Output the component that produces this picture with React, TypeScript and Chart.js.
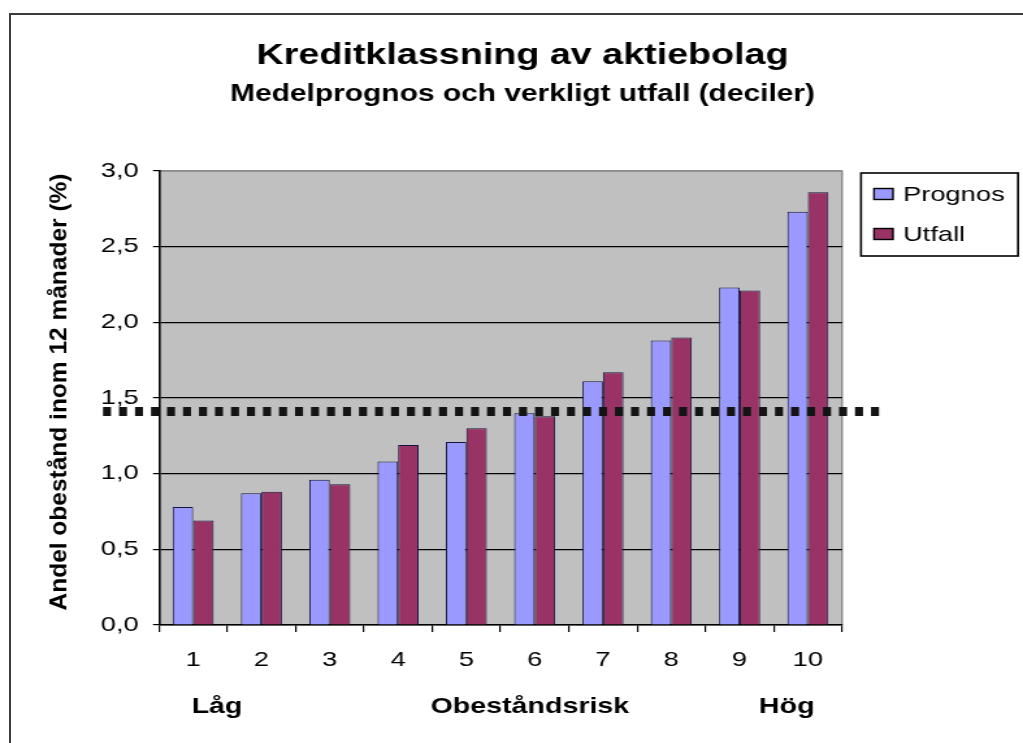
import React, { useEffect, useRef } from 'react';
import { Chart, registerables } from 'chart.js';

Chart.register(...registerables);

// ---- data ----
const categories = ['1', '2', '3', '4', '5', '6', '7', '8', '9', '10'];
const prognos = [0.78, 0.87, 0.96, 1.08, 1.21, 1.40, 1.61, 1.88, 2.23, 2.73];
const utfall = [0.69, 0.88, 0.93, 1.19, 1.30, 1.38, 1.67, 1.90, 2.21, 2.86];
const yTickLabels = ['0,0', '0,5', '1,0', '1,5', '2,0', '2,5', '3,0'];
const averageLevel = 1.41;
const riskLabels = ['Låg', 'Obeståndsrisk', 'Hög'];
const titleText = 'Kreditklassning av aktiebolag';
const subtitleText = 'Medelprognos och verkligt utfall (deciler)';
const yAxisTitle = 'Andel obestånd inom 12 månader (%)';

// ---- canvas geometry (drawn narrow, shown stretched like the reference) ----
const PAGE_W = 1023;
const PAGE_H = 743;
const CW = 787;
const S = PAGE_W / CW;
const FONT = "'Liberation Sans', Arial, sans-serif";
const LEFT_PAD = 17;

Chart.defaults.font.family = FONT;

const plotBackground = {
  id: 'plotBackground',
  beforeDraw(chart: any) {
    const { ctx, chartArea: a } = chart;
    ctx.save();
    ctx.fillStyle = '#c0c0c0';
    ctx.fillRect(a.left, a.top, a.right - a.left, a.bottom - a.top);
    ctx.strokeStyle = '#8c8c8c';
    ctx.lineWidth = 1.5;
    ctx.beginPath();
    ctx.moveTo(a.left, a.top);
    ctx.lineTo(a.right, a.top);
    ctx.lineTo(a.right, a.bottom);
    ctx.stroke();
    ctx.restore();
  },
};

const decorations = {
  id: 'decorations',
  afterDraw(chart: any) {
    const { ctx, chartArea: a } = chart;
    const w = a.right - a.left;

    // dotted average line
    const y = chart.scales.y.getPixelForValue(averageLevel);
    ctx.save();
    ctx.strokeStyle = '#141414';
    ctx.lineWidth = 9;
    ctx.lineCap = 'butt';
    ctx.setLineDash([8 / S, 8 / S]);
    ctx.beginPath();
    ctx.moveTo(a.left - 56 / S, y);
    ctx.lineTo(a.right + 40 / S, y);
    ctx.stroke();
    ctx.restore();

    // risk labels under the axis
    const fr = [0.085, 0.543, 0.919];
    ctx.save();
    ctx.fillStyle = '#000';
    ctx.font = `bold 22px ${FONT}`;
    ctx.textAlign = 'center';
    ctx.textBaseline = 'middle';
    riskLabels.forEach((t, i) => ctx.fillText(t, a.left + fr[i] * w, 707));
    ctx.restore();

    // y axis title (compensate stretch so glyphs keep their shape)
    ctx.save();
    ctx.translate(59 / S, (a.top + a.bottom) / 2 - 6);
    ctx.rotate(-Math.PI / 2);
    ctx.scale(1, 1 / S);
    ctx.fillStyle = '#000';
    ctx.font = `bold 24.5px ${FONT}`;
    ctx.textAlign = 'center';
    ctx.textBaseline = 'middle';
    ctx.fillText(yAxisTitle, 0, 0);
    ctx.restore();

    // legend
    const lx = 861 / S;
    const lw = (1018 - 861) / S;
    const ly = 173;
    const lh = 83;
    ctx.save();
    ctx.strokeStyle = '#000';
    ctx.lineWidth = 1.6;
    ctx.strokeRect(lx, ly, lw, lh);
    chart.data.datasets.forEach((ds: any, i: number) => {
      const cy = 194 + i * 40;
      ctx.fillStyle = ds.backgroundColor;
      ctx.fillRect(874 / S, cy - 5.5, 19 / S, 11);
      ctx.strokeStyle = '#000';
      ctx.lineWidth = 1.4;
      ctx.strokeRect(874 / S, cy - 5.5, 19 / S, 11);
      ctx.fillStyle = '#000';
      ctx.font = `21px ${FONT}`;
      ctx.textAlign = 'left';
      ctx.textBaseline = 'middle';
      ctx.fillText(ds.label, 903 / S, cy + 1);
    });
    ctx.restore();
  },
};

export default function App() {
  const ref = useRef<HTMLCanvasElement>(null);

  useEffect(() => {
    const canvas = ref.current;
    if (!canvas) return;
    const chart = new Chart(canvas, {
      type: 'bar',
      data: {
        labels: categories,
        datasets: [
          {
            label: 'Prognos',
            data: prognos,
            backgroundColor: '#9999ff',
            borderColor: '#14143c',
            borderWidth: 1,
            categoryPercentage: 0.6,
            barPercentage: 1.0,
          },
          {
            label: 'Utfall',
            data: utfall,
            backgroundColor: '#993366',
            borderColor: '#14143c',
            borderWidth: 1,
            categoryPercentage: 0.6,
            barPercentage: 1.0,
          },
        ],
      },
      options: {
        responsive: false,
        animation: false,
        devicePixelRatio: 1,
        layout: { padding: { left: LEFT_PAD, right: 0, top: 0, bottom: 0 } },
        plugins: {
          legend: { display: false },
          tooltip: { enabled: false },
          title: {
            display: true,
            text: titleText,
            color: '#000',
            font: { size: 29, weight: 'bold' },
            padding: { top: 38.6, bottom: 0 },
          },
          subtitle: {
            display: true,
            text: subtitleText,
            color: '#000',
            font: { size: 23, weight: 'bold' },
            padding: { top: 7.8, bottom: 62.2 },
          },
        },
        scales: {
          x: {
            offset: true,
            grid: {
              display: true,
              drawOnChartArea: false,
              drawTicks: true,
              tickLength: 7,
              tickColor: '#000',
              offset: true,
              lineWidth: 1.2,
            },
            border: { display: true, color: '#000', width: 1.6 },
            ticks: { color: '#000', font: { size: 21 }, padding: 16, maxRotation: 0, autoSkip: false },
            afterFit: (scale: any) => {
              scale.height = PAGE_H - 625;
            },
          },
          y: {
            min: 0,
            max: 3,
            ticks: {
              stepSize: 0.5,
              color: '#000',
              font: { size: 21 },
              padding: 11,
              callback: (_v: any, i: number) => yTickLabels[i],
            },
            grid: {
              color: (c: any) => (c.tick && c.tick.value === 3 ? '#8c8c8c' : '#000'),
              tickColor: '#000',
              tickLength: 6 / S,
              lineWidth: 1.2,
            },
            border: { display: true, color: '#000', width: 1.6 },
            afterFit: (scale: any) => {
              scale.width = 159 / S - LEFT_PAD;
            },
          },
          legendSpace: {
            type: 'linear',
            position: 'right',
            display: true,
            grid: { drawOnChartArea: false, drawTicks: false },
            border: { display: false },
            ticks: { display: false },
            afterFit: (scale: any) => {
              scale.width = CW - 842 / S;
            },
          },
        },
      },
      plugins: [plotBackground, decorations],
    } as any);
    return () => chart.destroy();
  }, []);

  return (
    <div
      style={{
        position: 'absolute',
        left: 0,
        top: 0,
        width: PAGE_W,
        height: PAGE_H,
        overflow: 'hidden',
        background: '#fff',
      }}
    >
      <canvas
        ref={ref}
        width={CW}
        height={PAGE_H}
        style={{ position: 'absolute', left: 0, top: 0, width: PAGE_W + 'px', height: PAGE_H + 'px' }}
      />
      <div
        style={{
          position: 'absolute',
          left: 9,
          top: 13,
          width: PAGE_W,
          height: PAGE_H,
          borderLeft: '2px solid #3c3c3c',
          borderTop: '2px solid #3c3c3c',
          pointerEvents: 'none',
        }}
      />
    </div>
  );
}
